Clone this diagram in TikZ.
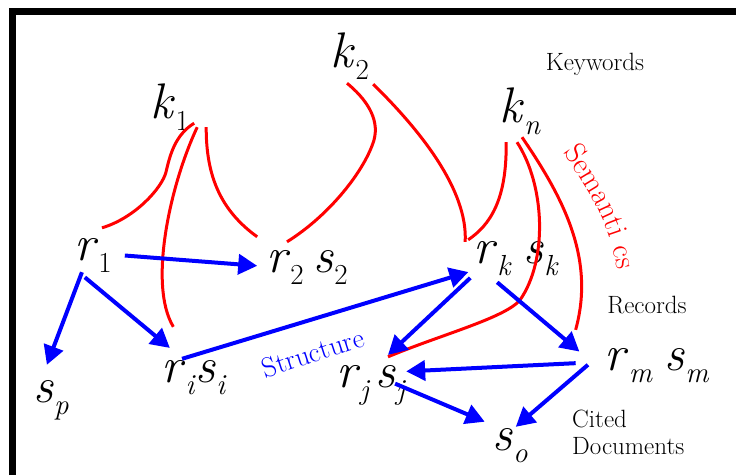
\documentclass[tikz,border=0pt]{standalone}
\usepackage{fontspec}
\usetikzlibrary{arrows.meta,decorations.text}
\definecolor{semred}{RGB}{255,0,0}
\definecolor{strblue}{RGB}{0,0,255}
\newcommand{\rs}[2]{\textit{#1}\raisebox{-12pt}{\fontsize{29}{29}\selectfont #2}}

\begin{document}
\begin{tikzpicture}[x=1pt,y=-1pt,
  sym/.style={font=\fontsize{50}{50}\selectfont,inner sep=0pt,text height=23pt,text depth=12pt,anchor=base},
  txt/.style={font=\fontsize{25}{27}\selectfont,inner sep=0pt},
  link/.style={strblue,line width=4pt,-{Triangle[length=19pt,width=20pt]}},
  sem/.style={semred,line width=3pt}]
  \useasboundingbox (0,0) rectangle (736,475);
  \draw[line width=7pt] (12,475) -- (12,11.5) -- (736,11.5);
  % Keywords
  \node[sym] (k1) at (170,118) {\rs{k}{1}};
  \node[sym] (k2) at (350,67) {\rs{k}{2}};
  \node[sym] (kn) at (520,122) {\rs{k}{\textit{n}}};
  \node[txt,anchor=base] (kw) at (595,70) {Keywords};
  % Records and cited documents
  \node[sym] (r1) at (93,260) {\rs{r}{1}};
  \node[sym] (r2) at (307,272) {\rs{r}{2}\hspace{10pt}\rs{s}{2}};
  \node[sym] (rk) at (516,263) {\rs{r}{\textit{k}}\hspace{12pt}\rs{s}{\textit{k}}};
  \node[sym] (rm) at (657,370) {\rs{r}{\textit{m}}\hspace{12pt}\rs{s}{\textit{m}}};
  \node[sym] (ri) at (194,382) {\rs{r}{\textit{i}}\rs{s}{\textit{i}}};
  \node[sym] (rj) at (371,387) {\rs{r}{\textit{j}}\hspace{5pt}\rs{s}{\textit{j}}};
  \node[sym] (sp) at (51,402) {\rs{s}{\textit{p}}};
  \node[sym] (so) at (510,450) {\rs{s}{\textit{o}}};
  \node[txt,anchor=base] (rec) at (647,313) {Records};
  \node[txt,anchor=north west,align=left] (cit) at (572,410) {Cited\\Documents};
  % Semantic links
  \draw[sem] ([xshift=5pt,yshift=7pt]k1.south east) .. controls (175,135) and (170,155) .. (166,172)
    .. controls (162,188) and (135,218) .. ([xshift=9pt,yshift=9pt]r1.north);
  \draw[sem] ([xshift=8pt,yshift=3pt]k1.south east) .. controls (170,185) and (148,285) .. ([xshift=12pt,yshift=32pt]ri.north west);
  \draw[sem] ([xshift=17pt,yshift=3pt]k1.south east) .. controls (206,175) and (220,210) .. ([xshift=-9pt,yshift=12pt]r2.north west);
  \draw[sem] ([xshift=-3pt,yshift=-4pt]k2.south) .. controls (365,98) and (380,118) .. (374,140)
    .. controls (365,170) and (330,215) .. ([xshift=-20pt,yshift=7pt]r2.north);
  \draw[sem] ([xshift=4pt,yshift=-5pt]k2.south east) .. controls (420,130) and (468,190) .. ([xshift=-8pt,yshift=-2pt]rk.north west);
  \draw[sem] ([xshift=7pt,yshift=-8pt]kn.south west) .. controls (507,200) and (490,225) .. ([xshift=-5pt]rk.north west);
  \draw[sem] ([xshift=-3pt,yshift=-8pt]kn.south) .. controls (545,185) and (548,260) .. (520,300)
    .. controls (505,318) and (440,335) .. ([xshift=17pt,yshift=7pt]rj.north);
  \draw[sem] ([xshift=2pt,yshift=-3pt]kn.south) .. controls (565,200) and (595,260) .. ([xshift=-29pt,yshift=17pt]rm.north west);
  \path[decorate,decoration={text along path,
    text={|\fontsize{30}{30}\selectfont\color{semred}|Semanti cs}}]
    (563,153) .. controls (586,186) and (618,232) .. (618,290);
  % Structure links
  \draw[link,shorten <=13pt,shorten >=9pt] (r1.east) -- (r2.west);
  \draw[link,shorten >=15pt] (r1.238) -- (sp.118);
  \draw[link,shorten <=8pt,shorten >=17pt] (r1.231) -- (ri.122);
  \draw[link,shorten >=5pt] (ri.124) -- (rk.197);
  \draw[link,shorten <=4pt,shorten >=13pt] (rk.south west) -- (rj.67);
  \draw[link,shorten <=11pt,shorten >=33pt] (rk.213) -- (rm.189);
  \draw[link,shorten <=29pt] (rm.177) -- (rj.16);
  \draw[link,shorten <=-12pt,shorten >=13pt] (rj.-11) -- (so.127);
  \draw[link,shorten <=22pt] (rm.165) -- (so.72);
  \node[txt,text=strblue,rotate=18,font=\fontsize{28}{28}\selectfont] (str) at (313,353) {Structure};
\end{tikzpicture}
\end{document}
